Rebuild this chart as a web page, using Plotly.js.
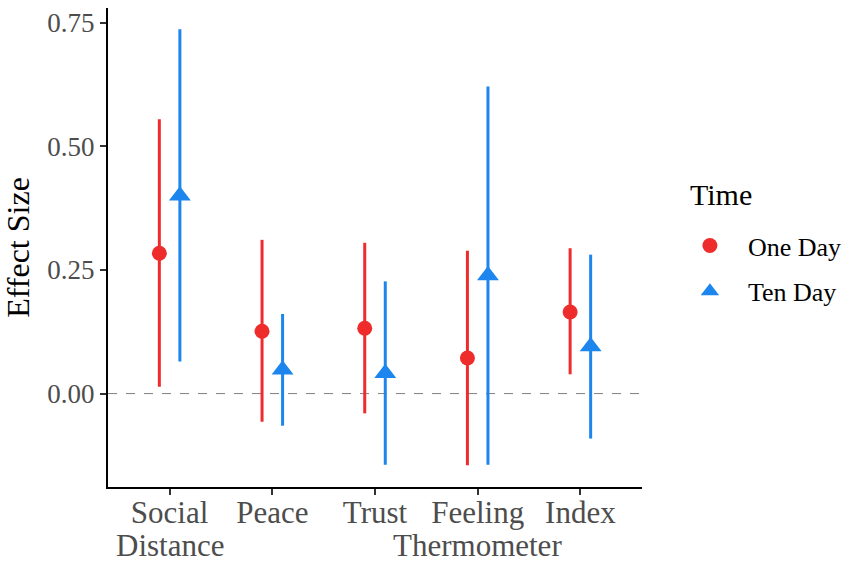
<!DOCTYPE html>
<html>
<head>
<meta charset="utf-8">
<script src="https://cdn.plot.ly/plotly-3.0.1.min.js"></script>
<style>html,body{margin:0;padding:0;background:#fff;}#chart{width:848px;height:563px;}</style>
</head>
<body>
<div id="chart"></div>
<script>
var categoryLine1 = ["Social", "Peace", "Trust", "Feeling", "Index"];
var categoryLine2 = ["Distance", "", "", "Thermometer", ""];
var seriesNames = ["One Day", "Ten Day"];
var oneDay = [0.284, 0.126, 0.132, 0.072, 0.165];
var oneLow = [0.014, -0.057, -0.040, -0.145, 0.039];
var oneHigh = [0.555, 0.311, 0.305, 0.289, 0.294];
var tenDay = [0.400, 0.048, 0.041, 0.239, 0.095];
var tenLow = [0.065, -0.065, -0.144, -0.144, -0.091];
var tenHigh = [0.737, 0.161, 0.227, 0.621, 0.281];
var yTicks = [0, 0.25, 0.5, 0.75];

var FONT = "Liberation Serif, Times New Roman, serif";
var RED = "#EE2C2C", BLUE = "#1C86EE";
var dodge = 0.1;
var idx = categoryLine1.map(function(_, i){ return i; });

function trace(name, vals, lo, hi, off, color, symbol, size, group){
  return {
    type: "scatter", mode: "markers", name: name,
    legendgroup: group,
    x: idx.map(function(i){ return i + off; }),
    y: vals,
    marker: {color: color, symbol: symbol, size: size, line: {width: 0}},
    error_y: {type: "data", symmetric: false,
      array: vals.map(function(v, i){ return hi[i] - v; }),
      arrayminus: vals.map(function(v, i){ return v - lo[i]; }),
      color: color, thickness: 3, width: 0},
    hoverinfo: "x+y"
  };
}

var data = [
  trace(seriesNames[0], oneDay, oneLow, oneHigh, -dodge, RED, "circle", 15, "a"),
  trace(seriesNames[1], tenDay, tenLow, tenHigh, dodge, BLUE, "triangle-up", 19, "b")
];

var annotations = [{text: "Time", xref: "paper", yref: "paper", x: 1.086, y: 0.65,
  xanchor: "left", yanchor: "top", showarrow: false,
  font: {family: FONT, size: 30, color: "#000"}}];
categoryLine2.forEach(function(t, i){
  if (!t) return;
  annotations.push({text: t, xref: "x", yref: "paper", x: idx[i], y: 0,
    xanchor: "center", yanchor: "top", yshift: -39, showarrow: false,
    font: {family: FONT, size: 31, color: "#4d4d4d"}});
});

var layout = {
  width: 848, height: 563,
  margin: {l: 108, r: 206, t: 8, b: 76, autoexpand: false},
  paper_bgcolor: "#fff", plot_bgcolor: "#fff",
  font: {family: FONT, color: "#000"},
  showlegend: true,
  legend: {x: 1.056, xanchor: "left", y: 0.553, yanchor: "top",
    font: {family: FONT, size: 26, color: "#000"},
    itemwidth: 66, traceorder: "grouped", tracegroupgap: 9,
    bgcolor: "rgba(0,0,0,0)"},
  xaxis: {
    range: [-0.6, 4.6], tickmode: "array", tickvals: idx, ticktext: categoryLine1,
    tickangle: 0, automargin: false, ticklabelstandoff: -9,
    showline: true, linecolor: "#000", linewidth: 2, showgrid: false, zeroline: false,
    ticks: "outside", ticklen: 6, tickwidth: 2, tickcolor: "#333",
    tickfont: {family: FONT, size: 31, color: "#4d4d4d"}
  },
  yaxis: {
    range: [-0.189, 0.780], tickmode: "array", tickvals: yTicks,
    tickformat: ".2f", automargin: false,
    showline: true, linecolor: "#000", linewidth: 2, showgrid: false, zeroline: false,
    ticks: "outside", ticklen: 6, tickwidth: 2, tickcolor: "#333",
    tickfont: {family: FONT, size: 27, color: "#4d4d4d"},
    title: {text: "Effect Size", font: {family: FONT, size: 32, color: "#000"}, standoff: 8}
  },
  shapes: [{type: "line", xref: "paper", x0: 0, x1: 1, yref: "y", y0: 0, y1: 0,
    line: {color: "#808080", width: 1, dash: "dash"}, layer: "below"}],
  annotations: annotations
};

Plotly.newPlot("chart", data, layout, {displayModeBar: false, staticPlot: true});
</script>
</body>
</html>
